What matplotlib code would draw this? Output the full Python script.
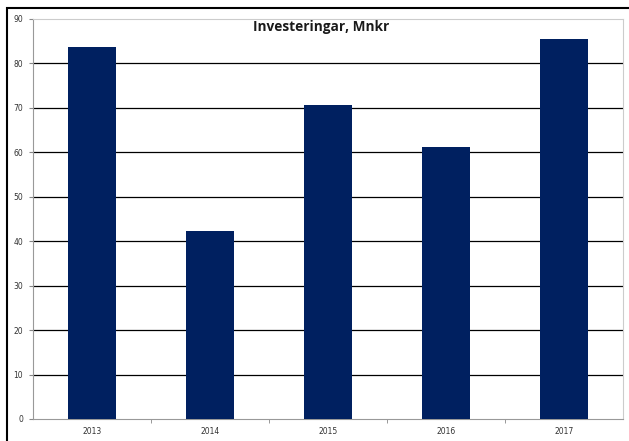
import matplotlib.pyplot as plt
from matplotlib.patches import Rectangle

# Data
years = ['2013', '2014', '2015', '2016', '2017']
values = [83.7, 42.3, 70.6, 61.2, 85.5]
yticks = [0, 10, 20, 30, 40, 50, 60, 70, 80, 90]

W, H = 629, 441
fig = plt.figure(figsize=(W / 100, H / 100), dpi=100)

# outer frame of the chart (cut off at the bottom and right in the original)
fig.patches.append(Rectangle((7 / W, -10 / H), 640 / W, 443 / H, transform=fig.transFigure,
                             fill=False, edgecolor='black', linewidth=1.5))

ax = fig.add_axes([33 / W, 22 / H, 590 / W, 400 / H])
x = range(len(years))
ax.bar(x, values, width=0.4, color='#002060', zorder=3)

ax.set_xlim(-0.5, len(years) - 0.5)
ax.set_ylim(0, 90)
ax.set_yticks(yticks)
ax.set_yticklabels([str(v) for v in yticks], fontsize=5.5, color='#333333')
ax.set_xticks(list(x))
ax.set_xticklabels(years, fontsize=5.5, color='#333333')
ax.tick_params(axis='x', length=0, pad=6)
ax.tick_params(axis='y', length=3, color='#888888', pad=4)

# minor ticks between categories
ax.set_xticks([i + 0.5 for i in range(len(years) - 1)], minor=True)
ax.tick_params(axis='x', which='minor', length=3, color='#888888', direction='out')

for v in yticks[1:-1]:
    ax.axhline(v, color='black', linewidth=0.9, zorder=1)

for side in ['top', 'right']:
    ax.spines[side].set_color('#cccccc')
    ax.spines[side].set_linewidth(0.8)
ax.spines['left'].set_color('#999999')
ax.spines['bottom'].set_color('#999999')
ax.spines['left'].set_linewidth(0.8)
ax.spines['bottom'].set_linewidth(0.8)

ax.text(0.488, 0.998, 'Investeringar, Mnkr', transform=ax.transAxes, ha='center', va='top',
        fontsize=9.8, fontweight='bold', family='Open Sans', color='#1a1a1a')

fig.savefig('out.png', dpi=100)
